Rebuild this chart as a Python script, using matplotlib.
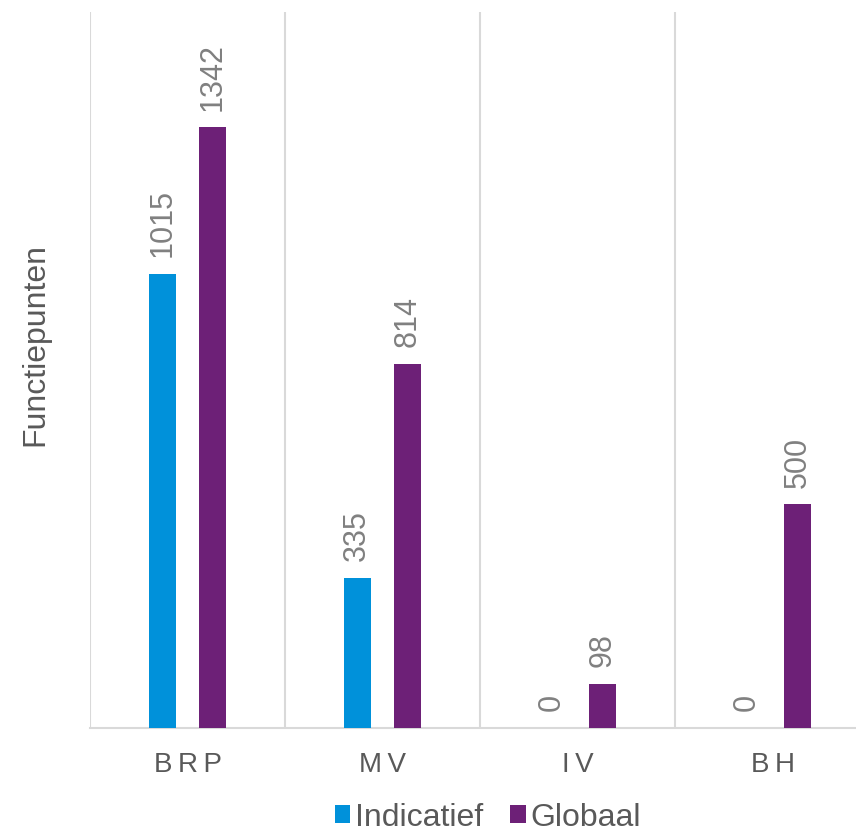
import matplotlib.pyplot as plt
import numpy as np

plt.rcParams['font.family'] = ['Liberation Sans', 'DejaVu Sans']

categories = ['BRP', 'MV', 'IV', 'BH']
indicatief = [1015, 335, 0, 0]
globaal = [1342, 814, 98, 500]

blue = '#0091DA'
purple = '#6D2077'
grid_c = '#D9D9D9'
text_c = '#595959'
val_c = '#808080'

fig = plt.figure(figsize=(8.56, 8.35), dpi=100)
ax = fig.add_axes([90 / 856, 1 - 728 / 835, 780 / 856, 716 / 835])

x = np.arange(len(categories))
w = 0.138
off = 0.13
b1 = ax.bar(x - off, indicatief, w, color=blue, label='Indicatief', zorder=3)
b2 = ax.bar(x + off, globaal, w, color=purple, label='Globaal', zorder=3)

# value labels, rotated
for bars, vals in ((b1, indicatief), (b2, globaal)):
    for r, v in zip(bars, vals):
        ax.annotate(str(v), (r.get_x() + r.get_width() / 2, v),
                    xytext=(0, 12), textcoords='offset points',
                    rotation=90, ha='center', va='bottom',
                    fontsize=22, color=val_c)

ax.set_xlim(-0.5, len(categories) - 0.5)
ax.set_ylim(0, 1600)

# category separators
for xs in np.arange(-0.5, len(categories), 1.0):
    ax.axvline(xs, color=grid_c, lw=1.5, zorder=1)

for s in ('top', 'right', 'left'):
    ax.spines[s].set_visible(False)
ax.spines['bottom'].set_color(grid_c)
ax.spines['bottom'].set_linewidth(1.5)

ax.set_yticks([])
ax.set_xticks(x)
ax.set_xticklabels(['\u2009'.join(c) for c in categories], fontsize=20, color=text_c)
ax.tick_params(axis='x', length=0, pad=17)

fig.text(35 / 856, 1 - 344 / 835, 'Functiepunten', rotation=90,
         ha='center', va='center', fontsize=23, color=text_c)

leg = ax.legend(loc='center', bbox_to_anchor=(0.51, -0.125), ncol=2, frameon=False,
                fontsize=23, handlelength=0.48, handleheight=0.48,
                handletextpad=0.15, columnspacing=0.85, borderaxespad=0)
for t in leg.get_texts():
    t.set_color(text_c)

fig.savefig('out.png', dpi=100)
